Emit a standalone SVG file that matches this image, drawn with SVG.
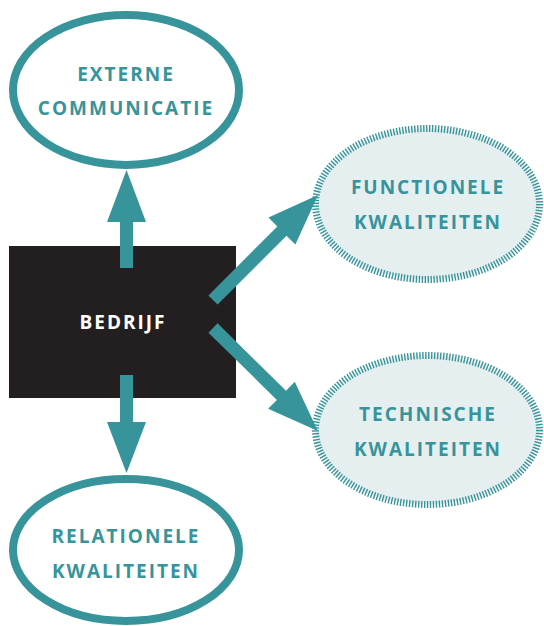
<svg xmlns="http://www.w3.org/2000/svg" width="544" height="626" viewBox="0 0 544 626">
  <style>
    .solid { fill: #ffffff; stroke: #37949a; stroke-width: 8; }
    .ticked { fill: #e5eff0; stroke: #37949a; stroke-width: 7; stroke-dasharray: 1.4 1.6; }
    .lbl { font-family: "Open Sans", "Liberation Sans", sans-serif; font-weight: 700; font-size: 19px; letter-spacing: 2px; fill: #37949a; text-anchor: middle; }
    .lbl-dark { fill: #ffffff; }
    .arrow { fill: #37949a; }
  </style>
  <rect width="544" height="626" fill="#ffffff"/>

  <g id="bedrijf">
    <rect x="9" y="246" width="227" height="152" fill="#231f20"/>
    <text class="lbl lbl-dark" x="123" y="329">BEDRIJF</text>
  </g>

  <g id="externe-communicatie">
    <ellipse class="solid" cx="126" cy="90" rx="113" ry="75"/>
    <text class="lbl" x="126" y="81">EXTERNE</text>
    <text class="lbl" x="126" y="115">COMMUNICATIE</text>
  </g>

  <g id="relationele-kwaliteiten">
    <ellipse class="solid" cx="126" cy="550" rx="113" ry="71"/>
    <text class="lbl" x="126" y="543">RELATIONELE</text>
    <text class="lbl" x="126" y="578">KWALITEITEN</text>
  </g>

  <g id="functionele-kwaliteiten">
    <ellipse class="ticked" cx="427.5" cy="204" rx="112" ry="75.5"/>
    <text class="lbl" x="428" y="194">FUNCTIONELE</text>
    <text class="lbl" x="428" y="229">KWALITEITEN</text>
  </g>

  <g id="technische-kwaliteiten">
    <ellipse class="ticked" cx="427.5" cy="430" rx="112" ry="74.5"/>
    <text class="lbl" x="428" y="421">TECHNISCHE</text>
    <text class="lbl" x="428" y="456">KWALITEITEN</text>
  </g>

  <!-- arrows start inside the company block and sit on top of it -->
  <g id="connectors">
    <!-- up to Externe communicatie -->
    <polygon class="arrow" points="120,268 120,222 107,222 126.5,170 146,222 133,222 133,268"/>
    <!-- down to Relationele kwaliteiten -->
    <polygon class="arrow" points="120,375 120,422 107,422 126.5,473 146,422 133,422 133,375"/>
    <!-- to Functionele kwaliteiten -->
    <polygon class="arrow" transform="translate(213,300) rotate(-45)" points="0,-6.5 97.5,-6.5 97.5,-19 148.5,0 97.5,19 97.5,6.5 0,6.5"/>
    <!-- to Technische kwaliteiten -->
    <polygon class="arrow" transform="translate(213,328) rotate(44.5)" points="0,-6.5 96,-6.5 96,-19 147,0 96,19 96,6.5 0,6.5"/>
  </g>
</svg>
